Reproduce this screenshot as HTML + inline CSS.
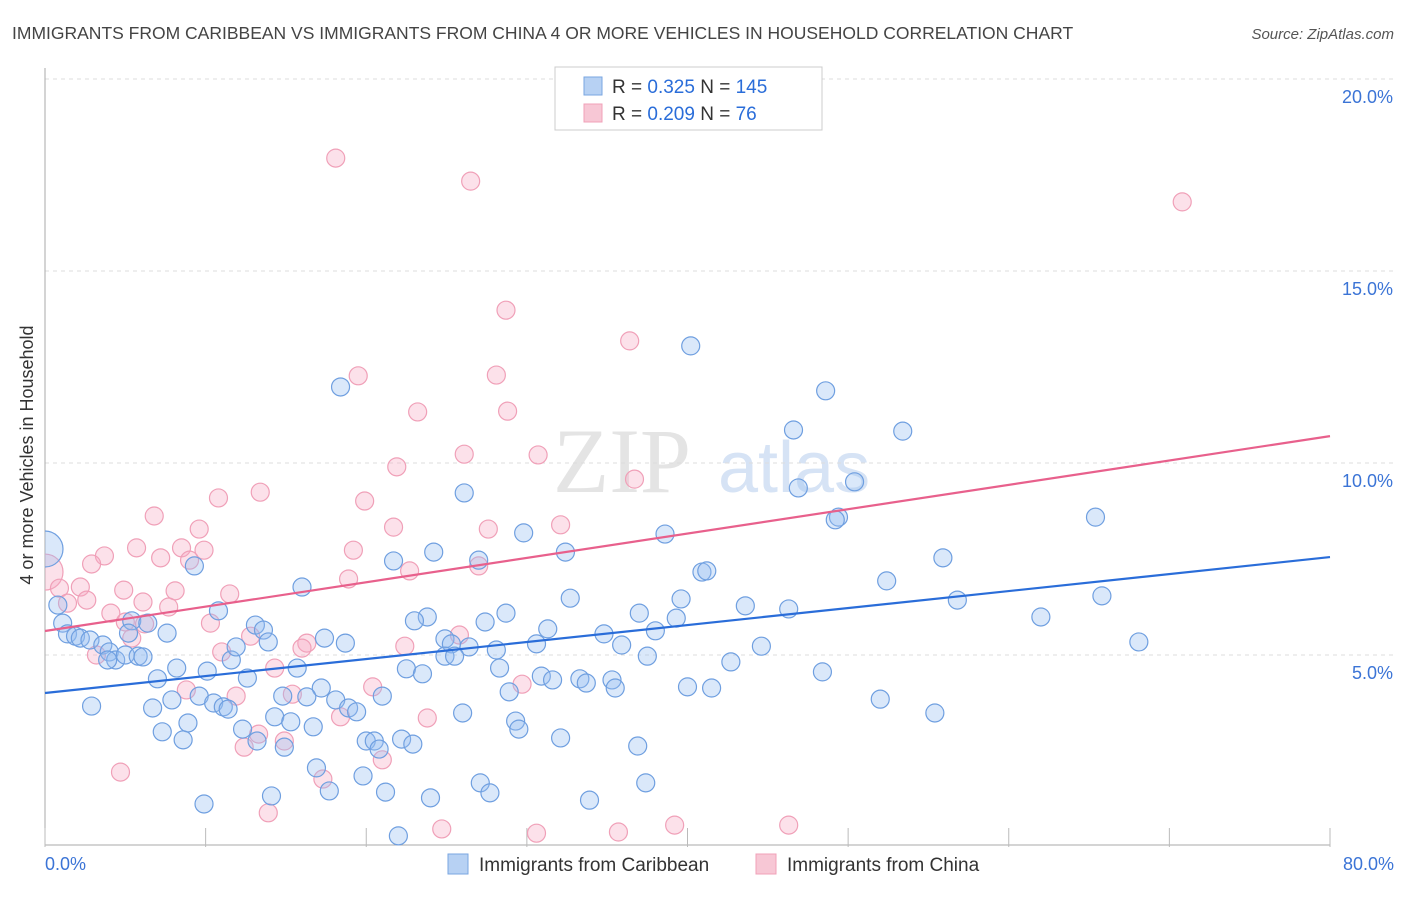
<!DOCTYPE html>
<html><head><meta charset="utf-8"><style>
body{margin:0;background:#fff;width:1406px;height:892px;overflow:hidden;font-family:"Liberation Sans",sans-serif}
</style></head><body>
<svg width="1406" height="892" xmlns="http://www.w3.org/2000/svg">
<text x="12" y="39" font-size="17.5" fill="#444">IMMIGRANTS FROM CARIBBEAN VS IMMIGRANTS FROM CHINA 4 OR MORE VEHICLES IN HOUSEHOLD CORRELATION CHART</text>
<text x="1394" y="39" font-size="15" fill="#555" font-style="italic" text-anchor="end">Source: ZipAtlas.com</text>
<text transform="translate(33,455) rotate(-90)" font-size="18" fill="#333" text-anchor="middle">4 or more Vehicles in Household</text>
<g>
<text x="553" y="492" font-size="92" font-family="Liberation Serif,serif" fill="#e4e4e4">ZIP</text>
<text x="718" y="492" font-size="72" fill="#d6e3f5">atlas</text>
</g>
<g id="grid"></g><g id="axes"></g>
<defs><clipPath id="pc"><rect x="45" y="60" width="1300" height="786"/></clipPath></defs>
<g id="pts" clip-path="url(#pc)"></g>
<g id="lines"></g>
<g>
<rect x="555" y="67" width="267" height="63" fill="#fff" stroke="#ccc"/>
<rect x="584" y="77" width="18" height="18" fill="#b7d1f3" stroke="#7aa6e0"/>
<rect x="584" y="104" width="18" height="18" fill="#f7c7d5" stroke="#f0a0b8"/>
<text x="612" y="93" font-size="19" fill="#333">R = <tspan fill="#2a6dd9">0.325</tspan>   N = <tspan fill="#2a6dd9">145</tspan></text>
<text x="612" y="120" font-size="19" fill="#333">R = <tspan fill="#2a6dd9">0.209</tspan>   N =   <tspan fill="#2a6dd9">76</tspan></text>
</g>
<g>
<rect x="448" y="854" width="20" height="20" fill="#b7d1f3" stroke="#7aa6e0"/>
<text x="479" y="871" font-size="19" fill="#333">Immigrants from Caribbean</text>
<rect x="756" y="854" width="20" height="20" fill="#f7c7d5" stroke="#f0a0b8"/>
<text x="787" y="871" font-size="19" fill="#333">Immigrants from China</text>
</g>
</svg>
<script>
const yTicks=[5,10,15,20];
const yTickLabels=["5.0%","10.0%","15.0%","20.0%"];
const xTickVals=[0,10,20,30,40,50,60,70,80];
const blueX=[40.2,18.4,48.6,46.6,53.4,26.1,46.9,50.4,49.4,49.2,65.4,29.8,38.6,24.2,32.4,21.7,27.0,55.9,9.3,40.9,41.2,52.4,16.0,32.7,39.6,65.8,56.8,43.6,46.3,37.0,28.7,23.8,23.0,27.4,39.3,62.0,10.8,0.8,1.1,1.4,1.9,2.2,2.8,3.6,5.4,5.2,6.4,7.6,4.0,4.4,3.9,5.0,5.8,6.1,8.2,7.0,10.1,11.6,11.9,13.1,13.6,13.9,15.7,17.4,18.7,31.3,34.8,30.6,35.9,24.9,25.3,26.4,28.1,24.9,25.5,38.0,44.6,37.5,42.7,22.5,23.5,28.3,30.9,31.6,33.3,33.7,35.3,35.5,40.0,41.5,48.4,68.1,12.6,17.2,28.9,14.8,16.3,18.1,21.0,9.6,7.9,2.9,6.7,10.5,11.1,11.4,18.9,19.4,26.0,52.0,55.4,8.9,14.3,15.3,16.7,29.3,29.5,7.3,8.6,12.3,13.2,14.9,20.0,20.5,20.8,22.2,22.9,32.1,36.9,16.9,19.8,27.1,37.4,14.1,17.7,21.2,24.0,27.7,33.9,9.9,22.0,0.0];
const blueY=[13.05,11.98,11.88,10.86,10.83,9.22,9.35,9.51,8.59,8.52,8.59,8.18,8.15,7.68,7.68,7.45,7.47,7.53,7.32,7.16,7.19,6.93,6.77,6.48,6.46,6.54,6.43,6.28,6.20,6.09,6.09,5.99,5.89,5.86,5.96,5.99,6.15,6.30,5.83,5.55,5.49,5.44,5.39,5.26,5.89,5.57,5.83,5.57,5.08,4.87,4.87,5.0,4.97,4.95,4.66,4.38,4.58,4.87,5.21,5.78,5.65,5.34,4.66,5.44,5.31,5.68,5.55,5.29,5.26,5.42,5.29,5.21,5.13,4.97,4.97,5.63,5.23,4.97,4.82,4.64,4.51,4.66,4.45,4.35,4.38,4.27,4.35,4.14,4.17,4.14,4.56,5.34,4.40,4.14,4.04,3.93,3.91,3.83,3.93,3.93,3.83,3.67,3.62,3.75,3.65,3.59,3.62,3.52,3.49,3.85,3.49,3.23,3.39,3.26,3.13,3.28,3.07,3.0,2.79,3.07,2.76,2.60,2.76,2.76,2.55,2.81,2.68,2.84,2.63,2.06,1.85,1.67,1.67,1.33,1.46,1.43,1.28,1.41,1.22,1.12,0.29,7.76];
const blueR=blueX.map((v,i)=>i===blueX.length-1?18:9);
const pinkX=[18.1,26.5,70.8,28.7,36.4,19.5,28.1,23.2,28.8,26.1,30.7,21.9,36.7,13.4,10.8,19.9,6.8,9.6,21.7,27.6,32.1,5.7,8.5,9.9,3.7,7.2,9.0,19.2,2.9,27.0,22.7,18.9,0.0,0.9,2.2,4.9,8.1,11.5,2.6,1.4,6.1,7.7,4.1,10.3,5.0,6.2,12.8,25.8,5.4,16.3,16.0,22.4,3.2,11.0,14.3,29.7,20.4,8.8,15.4,11.9,23.8,18.4,13.3,14.9,12.4,21.0,17.3,4.7,13.9,24.7,30.6,35.7,39.2,46.3];
const pinkY=[17.94,17.34,16.80,13.98,13.18,12.27,12.29,11.33,11.35,10.23,10.21,9.90,9.58,9.24,9.09,9.01,8.62,8.28,8.33,8.28,8.39,7.79,7.79,7.73,7.58,7.53,7.47,7.73,7.37,7.32,7.19,6.98,7.16,6.74,6.77,6.69,6.67,6.59,6.43,6.35,6.38,6.25,6.09,5.83,5.86,5.81,5.49,5.52,5.44,5.31,5.18,5.23,5.0,5.08,4.66,4.24,4.17,4.09,3.98,3.93,3.36,3.39,2.94,2.76,2.60,2.27,1.77,1.95,0.89,0.47,0.36,0.39,0.57,0.57];
const blueLine=[4.01,7.55];
const pinkLine=[5.625,10.70];
const X0=45,X1=1330,Y0=847;
const sx=v=>X0+(X1-X0)*v/80;
const sy=v=>Y0-v*38.4;
const NS="http://www.w3.org/2000/svg";
function mk(tag,attrs,parent){const e=document.createElementNS(NS,tag);for(const k in attrs)e.setAttribute(k,attrs[k]);parent.appendChild(e);return e;}
const grid=document.getElementById('grid'),axes=document.getElementById('axes'),pts=document.getElementById('pts'),lines=document.getElementById('lines');
yTicks.forEach((t,i)=>{
 const l=mk('line',{x1:45,x2:1394,y1:sy(t),y2:sy(t),stroke:'#ddd','stroke-dasharray':'4,4'},grid);
 
 
 const tx=mk('text',{x:1393,y:sy(t)+24,'font-size':18,fill:'#3b74d6','text-anchor':'end'},grid);
 tx.textContent=yTickLabels[i];
 
 
});
const ax=mk('line',{x1:45,x2:45,y1:68,y2:847,stroke:'#aaa'},axes);


const bx=mk('line',{x1:45,x2:1330,y1:845,y2:845,stroke:'#aaa'},axes);


xTickVals.forEach(v=>{
 const t=mk('line',{x1:sx(v),x2:sx(v),y1:828,y2:847,stroke:'#bbb'},axes);
 
 
});
[[0,"0.0%","start",45],[80,"80.0%","end",1394]].forEach(a=>{
 const t=mk('text',{x:a[3],y:870,'font-size':18,fill:'#3b74d6','text-anchor':a[2]},axes);
 t.textContent=a[1];
 
 
});
pinkX.forEach((v,i)=>{
 const c=mk('circle',{cx:sx(v),cy:sy(pinkY[i]),r:i===32?18:9,fill:'rgba(245,170,195,0.35)',stroke:'#f0a0b8','stroke-width':1.2},pts);
 
 
});
blueX.forEach((v,i)=>{
 const c=mk('circle',{cx:sx(v),cy:sy(blueY[i]),r:blueR[i],fill:'rgba(150,190,240,0.35)',stroke:'#6f9fe0','stroke-width':1.2},pts);
 
 
});
const bl=mk('line',{x1:sx(0),y1:sy(blueLine[0]),x2:sx(80),y2:sy(blueLine[1]),stroke:'#2a6dd9','stroke-width':2.2},lines);


const pl=mk('line',{x1:sx(0),y1:sy(pinkLine[0]),x2:sx(80),y2:sy(pinkLine[1]),stroke:'#e8608c','stroke-width':2.2},lines);


</script>
</body></html>
